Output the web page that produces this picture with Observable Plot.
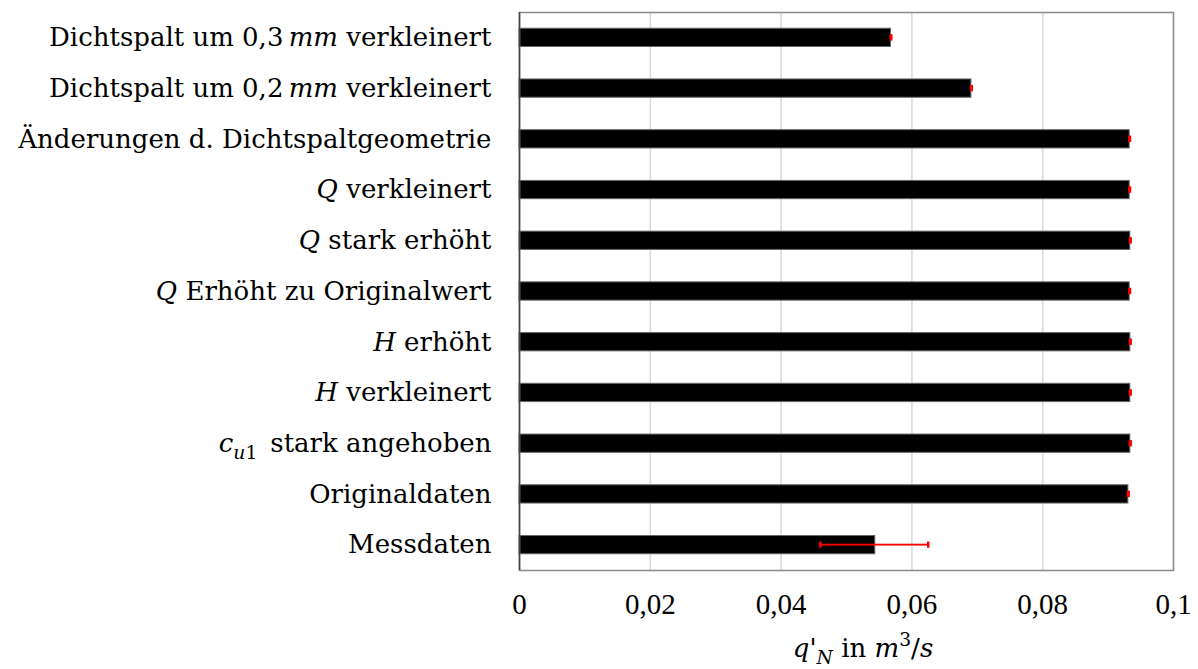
<!DOCTYPE html>
<html><head><meta charset="utf-8">
<script src="https://cdn.jsdelivr.net/npm/d3@7"></script>
<script src="https://cdn.jsdelivr.net/npm/@observablehq/plot@0.6"></script>
<style>body{margin:0;background:#fff}</style>
</head><body><div id="chart"></div>
<script>
// Category labels (markup: *italic*, _{subscript}, ^{superscript})
const categories = [
  "Dichtspalt um 0,3\u2009*mm* verkleinert",
  "Dichtspalt um 0,2\u2009*mm* verkleinert",
  "Änderungen d. Dichtspaltgeometrie",
  "*Q* verkleinert",
  "*Q* stark erhöht",
  "*Q* Erhöht zu Originalwert",
  "*H* erhöht",
  "*H* verkleinert",
  "*c*_{*u*1}\u2002stark angehoben",
  "Originaldaten",
  "Messdaten"
];
const values  = [0.0568, 0.0691, 0.0933, 0.0933, 0.0934, 0.0933, 0.0934, 0.0934, 0.0934, 0.0931, 0.0544];
const errLow  = [0.05675, 0.06905, 0.09325, 0.09325, 0.09335, 0.09325, 0.09335, 0.09335, 0.09335, 0.09305, 0.0460];
const errHigh = [0.05685, 0.06915, 0.09335, 0.09335, 0.09345, 0.09335, 0.09345, 0.09345, 0.09345, 0.09315, 0.0625];
const xTicks = [0, 0.02, 0.04, 0.06, 0.08, 0.1];
const xTickLabels = ["0", "0,02", "0,04", "0,06", "0,08", "0,1"];
const xLabel = "*q*'_{*N*} in *m*^{3}/*s*";

const TICKFONT = "Liberation Serif, serif";
const LABELFONT = "DejaVu Serif, serif";
const FS = 26;

const data = categories.map((c, i) => ({cat: c, v: values[i], lo: errLow[i], hi: errHigh[i]}));
const plain = s => s.replace(/[*]/g, "").replace(/[_^]\{([^}]*)\}/g, "$1");

const svg = Plot.plot({
  width: 1198,
  height: 669,
  marginLeft: 519,
  marginRight: 25,
  marginTop: 12,
  marginBottom: 99,
  style: {fontFamily: TICKFONT, fontSize: "29px", background: "#fff", color: "#000"},
  x: {domain: [0, 0.1]},
  y: {domain: categories, paddingInner: 0.64, paddingOuter: 0.32, round: false},
  marks: [
    Plot.gridX(xTicks, {stroke: "#d9d9d9", strokeOpacity: 1, strokeWidth: 1.5}),
    Plot.barX(data, {y: "cat", x: "v", fill: "#000", stroke: "#666", strokeWidth: 1}),
    Plot.barX(data, {y: "cat", x1: "lo", x2: "hi", fill: "#ff0000", insetTop: 8.2, insetBottom: 8.2}),
    Plot.tickX(data, {y: "cat", x: "lo", stroke: "#ff0000", strokeWidth: 2.5, insetTop: 6, insetBottom: 6}),
    Plot.tickX(data, {y: "cat", x: "hi", stroke: "#ff0000", strokeWidth: 2.5, insetTop: 6, insetBottom: 6}),
    Plot.frame({stroke: "#8a8a8a", strokeWidth: 1.5}),
    Plot.ruleX([0], {stroke: "#444", strokeWidth: 1.5}),
    Plot.axisX({ticks: xTicks, tickFormat: d => xTickLabels[xTicks.indexOf(d)], tickSize: 0, tickPadding: 23, label: null, fontSize: 29}),
    Plot.axisY({tickSize: 0, tickPadding: 28, label: null, tickFormat: plain, fontSize: FS, fontFamily: LABELFONT})
  ]
});

const NS = "http://www.w3.org/2000/svg";
function appendRich(parent, s, fs) {
  const parts = s.split(/(\*[^*]+\*|_\{[^}]*\}|\^\{[^}]*\})/).filter(p => p !== "");
  let pending = 0;
  for (const p of parts) {
    if (p.startsWith("_{") || p.startsWith("^{")) {
      const sub = p[0] === "_";
      const shift = sub ? 0.25 * fs : -0.42 * fs;
      const g = document.createElementNS(NS, "tspan");
      g.setAttribute("font-size", (0.72 * fs) + "px");
      g.setAttribute("dy", (shift + pending) + "px");
      appendRich(g, p.slice(2, -1), 0.72 * fs);
      parent.appendChild(g);
      pending = -shift;
    } else {
      const t = document.createElementNS(NS, "tspan");
      if (p.startsWith("*")) { t.setAttribute("font-style", "italic"); t.textContent = p.slice(1, -1); }
      else t.textContent = p;
      if (pending) { t.setAttribute("dy", pending + "px"); pending = 0; }
      parent.appendChild(t);
    }
  }
}

const map = new Map(categories.map(c => [plain(c), c]));
svg.querySelectorAll('g[aria-label="y-axis tick label"] text').forEach(t => {
  const m = map.get(t.textContent);
  if (m) { t.textContent = ""; appendRich(t, m, FS); }
});

const lab = document.createElementNS(NS, "text");
lab.setAttribute("x", 863);
lab.setAttribute("y", 657);
lab.setAttribute("text-anchor", "middle");
lab.setAttribute("font-family", LABELFONT);
lab.setAttribute("font-size", FS + "px");
lab.setAttribute("fill", "#000");
appendRich(lab, xLabel, FS);
svg.appendChild(lab);

document.getElementById("chart").appendChild(svg);
</script>
</body></html>
